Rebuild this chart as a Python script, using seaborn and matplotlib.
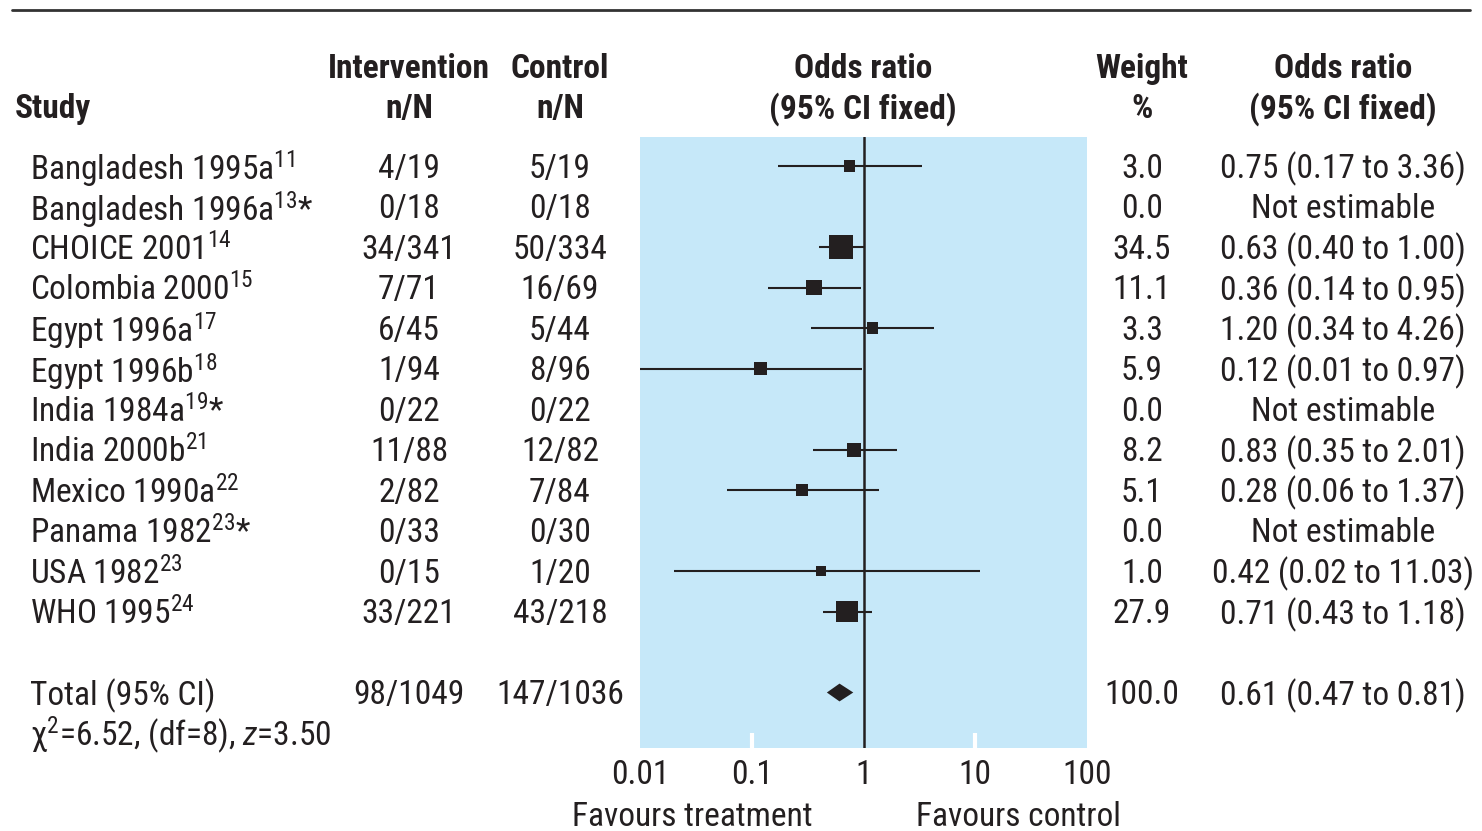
import numpy as np
import pandas as pd
import matplotlib
matplotlib.use('Agg')
import matplotlib.pyplot as plt
import matplotlib.transforms as mtransforms
import seaborn as sns

# Data
studies = ['Bangladesh 1995a', 'Bangladesh 1996a', 'CHOICE 2001', 'Colombia 2000',
           'Egypt 1996a', 'Egypt 1996b', 'India 1984a', 'India 2000b',
           'Mexico 1990a', 'Panama 1982', 'USA 1982', 'WHO 1995']
refs = ['11', '13', '14', '15', '17', '18', '19', '21', '22', '23', '23', '24']
starred = [False, True, False, False, False, False, True, False, False, True, False, False]
intervention = ['4/19', '0/18', '34/341', '7/71', '6/45', '1/94', '0/22', '11/88',
                '2/82', '0/33', '0/15', '33/221']
control = ['5/19', '0/18', '50/334', '16/69', '5/44', '8/96', '0/22', '12/82',
           '7/84', '0/30', '1/20', '43/218']
weight = [3.0, 0.0, 34.5, 11.1, 3.3, 5.9, 0.0, 8.2, 5.1, 0.0, 1.0, 27.9]
odds = [0.75, np.nan, 0.63, 0.36, 1.20, 0.12, np.nan, 0.83, 0.28, np.nan, 0.42, 0.71]
ci_low = [0.17, np.nan, 0.40, 0.14, 0.34, 0.01, np.nan, 0.35, 0.06, np.nan, 0.02, 0.43]
ci_high = [3.36, np.nan, 1.00, 0.95, 4.26, 0.97, np.nan, 2.01, 1.37, np.nan, 11.03, 1.18]

total_int = '98/1049'
total_ctl = '147/1036'
total_weight = 100.0
total_or, total_low, total_high = 0.61, 0.47, 0.81
stats_text = r'χ$^2$=6.52, (df=8), $z$=3.50'

xticks = [0.01, 0.1, 1, 10, 100]
xtick_labels = ['0.01', '0.1', '1', '10', '100']

df = pd.DataFrame({'study': studies, 'weight': weight, 'odds': odds,
                   'low': ci_low, 'high': ci_high})
df['row'] = np.arange(len(df))
total_row = len(df) + 1

# Style
sns.set_theme(style='white')
plt.rcParams['font.family'] = ['Roboto Condensed', 'DejaVu Sans']
plt.rcParams['mathtext.fontset'] = 'custom'
plt.rcParams['mathtext.rm'] = 'Roboto Condensed'
plt.rcParams['mathtext.it'] = 'Roboto Condensed:italic'

ink = '#231f20'
panel = '#c6e8f9'
fs = 24

W, H = 1482, 831
fig = plt.figure(figsize=(W / 100, H / 100), dpi=100)
ax = fig.add_axes([640 / W, 1 - 748 / H, 447 / W, 611 / H])
ax.set_facecolor(panel)

# CI lines and weighted squares
est = df.dropna(subset=['odds'])
ax.hlines(est['row'], est['low'], est['high'], color=ink, lw=1.5, zorder=3)
sns.scatterplot(data=est, x='odds', y='row', size='weight', sizes=(50, 290),
                size_norm=(1.0, 34.5), marker='s', color=ink, linewidth=0,
                legend=False, ax=ax, zorder=4)

# Pooled diamond
ax.fill([total_low, total_or, total_high, total_or],
        [total_row, total_row - 0.22, total_row, total_row + 0.22],
        color=ink, lw=0, zorder=4)

ax.axvline(1, color=ink, lw=1.8, zorder=5)

ax.set_xscale('log')
ax.set_xlim(0.01, 100)
ax.set_ylim(14.37, -0.716)
ax.set_xticks(xticks)
ax.set_xticklabels(xtick_labels)
ax.minorticks_off()
ax.set_yticks([])
ax.set_xlabel('')
ax.set_ylabel('')
ax.tick_params(axis='x', direction='in', length=11, width=3, color='white',
               labelsize=fs, labelcolor=ink, pad=8, bottom=True)
for i, t in enumerate(ax.xaxis.get_major_ticks()):
    if i in (0, 2, 4):
        t.tick1line.set_visible(False)
for s in ax.spines.values():
    s.set_visible(False)

# Text columns: x in figure pixels, y in row units
tr = mtransforms.blended_transform_factory(fig.transFigure, ax.transData)
dy = 0.07


def col(x, y, s, ha='center', **kw):
    ax.text(x / W, y + dy, s, transform=tr, ha=ha, va='center', fontsize=fs,
            color=ink, clip_on=False, **kw)


for i in range(len(studies)):
    label = studies[i] + '$^{' + refs[i] + '}$' + ('*' if starred[i] else '')
    col(30, i, label, ha='left')
    col(409, i, intervention[i])
    col(560, i, control[i])
    col(1142, i, f'{weight[i]:.1f}')
    if np.isnan(odds[i]):
        col(1343, i, 'Not estimable')
    else:
        col(1343, i, f'{odds[i]:.2f} ({ci_low[i]:.2f} to {ci_high[i]:.2f})')

col(30, total_row, 'Total (95% CI)', ha='left')
col(409, total_row, total_int)
col(560, total_row, total_ctl)
col(1142, total_row, f'{total_weight:.1f}')
col(1343, total_row, f'{total_or:.2f} ({total_low:.2f} to {total_high:.2f})')
col(30, total_row + 1, stats_text, ha='left')


# Header
def head(x, y, s, ha='center'):
    fig.text(x / W, 1 - (y + 2) / H, s, ha=ha, va='center', fontsize=fs,
             fontweight='bold', color=ink)


head(15, 107, 'Study', ha='left')
head(409, 67, 'Intervention')
head(409, 107, 'n/N')
head(560, 67, 'Control')
head(560, 107, 'n/N')
head(863, 67, 'Odds ratio')
head(863, 107, '(95% CI fixed)')
head(1142, 67, 'Weight')
head(1142, 107, '%')
head(1343, 67, 'Odds ratio')
head(1343, 107, '(95% CI fixed)')

fig.text(692 / W, 1 - 817 / H, 'Favours treatment', ha='center', va='center',
         fontsize=fs, color=ink)
fig.text(1018 / W, 1 - 817 / H, 'Favours control', ha='center', va='center',
         fontsize=fs, color=ink)

# Top rule
fig.add_artist(plt.Line2D([12 / W, 1470 / W], [1 - 10 / H, 1 - 10 / H],
                          color='#333333', lw=2))

fig.savefig('out.png', dpi=100)
